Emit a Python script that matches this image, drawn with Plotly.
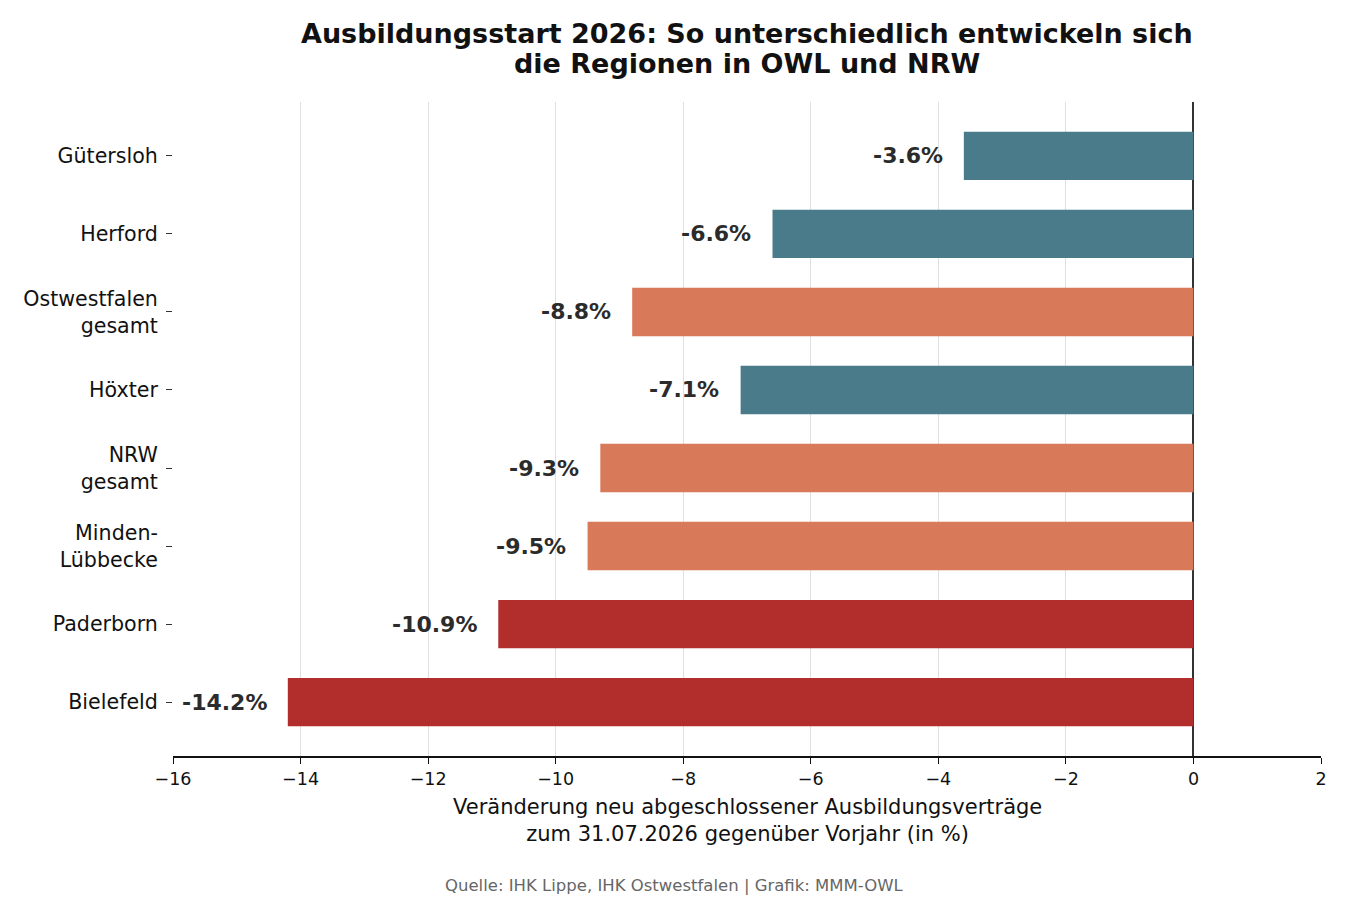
import plotly.graph_objects as go

# Data
regions = ['Gütersloh', 'Herford', 'Ostwestfalen<br>gesamt', 'Höxter',
           'NRW<br>gesamt', 'Minden-<br>Lübbecke', 'Paderborn', 'Bielefeld']
change_pct = [-3.6, -6.6, -8.8, -7.1, -9.3, -9.5, -10.9, -14.2]
bar_colors = ['#4a7b8a', '#4a7b8a', '#d87a59', '#4a7b8a',
              '#d87a59', '#d87a59', '#b12e2d', '#b12e2d']
x_ticks = [-16, -14, -12, -10, -8, -6, -4, -2, 0, 2]
title_lines = ['Ausbildungsstart 2026: So unterschiedlich entwickeln sich',
               'die Regionen in OWL und NRW']

FONT = 'DejaVu Sans'

fig = go.Figure()
fig.add_trace(go.Bar(x=change_pct, y=regions, orientation='h',
                     marker=dict(color=bar_colors, line=dict(width=0)),
                     width=0.62, hoverinfo='skip'))

# value labels left of each bar end
for reg, val in zip(regions, change_pct):
    fig.add_annotation(x=val - 0.3, y=reg, text=f'<b>{val:.1f}%</b>',
                       showarrow=False, xanchor='right', yanchor='middle',
                       font=dict(family=FONT, size=22, color='#2b2b2b'))

# title as two annotations (tighter line spacing than plotly's title)
for i, line in enumerate(title_lines):
    fig.add_annotation(x=0.5, y=1, xref='paper', yref='paper', yshift=69 - 30 * i,
                       xanchor='center', yanchor='middle', showarrow=False,
                       text=f'<b>{line}</b>',
                       font=dict(family=FONT, size=27, color='#111'))

# x axis title (two lines) and source
fig.add_annotation(x=0.5, y=0, xref='paper', yref='paper', yshift=-37,
                   xanchor='center', yanchor='top', showarrow=False,
                   text='Veränderung neu abgeschlossener Ausbildungsverträge<br>'
                        'zum 31.07.2026 gegenüber Vorjahr (in %)',
                   font=dict(family=FONT, size=21, color='#111'))
fig.add_annotation(x=0.437, y=0, xref='paper', yref='paper', yshift=-129,
                   xanchor='center', yanchor='middle', showarrow=False,
                   text='Quelle: IHK Lippe, IHK Ostwestfalen | Grafik: MMM-OWL',
                   font=dict(family=FONT, size=16.5, color='#666'))

fig.update_layout(
    width=1350, height=900,
    margin=dict(l=165, r=37, t=94, b=152),
    paper_bgcolor='white', plot_bgcolor='white',
    showlegend=False,
    font=dict(family=FONT, color='#111'),
    xaxis=dict(range=[-16, 2], tickvals=x_ticks,
               ticktext=[str(t).replace('-', '\u2212') for t in x_ticks],
               showgrid=True, gridcolor='#e0e0e0', gridwidth=1,
               zeroline=True, zerolinecolor='#333', zerolinewidth=1.6,
               showline=True, linecolor='#111', linewidth=1.5,
               ticks='outside', ticklen=6, tickcolor='#111', tickwidth=1.3,
               tickfont=dict(family=FONT, size=17.5, color='#111')),
    yaxis=dict(categoryorder='array', categoryarray=regions,
               range=[7.69, -0.69], showgrid=False, zeroline=False,
               showline=False, ticks='outside', ticklen=6, tickcolor='#333',
               tickwidth=1.3, ticklabelstandoff=4,
               tickfont=dict(family=FONT, size=20.6, color='#111')),
)

fig.write_html('out.html')
